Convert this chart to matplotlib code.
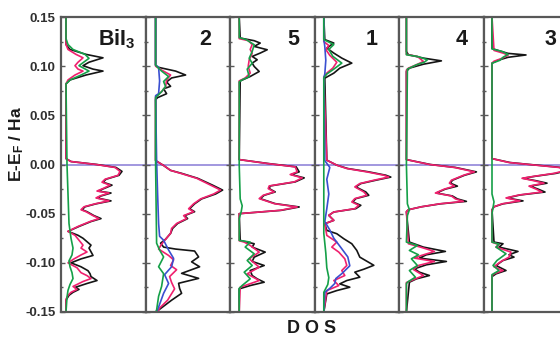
import matplotlib
matplotlib.use('Agg')
import matplotlib.pyplot as plt
from matplotlib.ticker import MultipleLocator

plt.rcParams['font.family'] = ['Liberation Sans', 'DejaVu Sans']
plt.rcParams['mathtext.fontset'] = 'custom'
plt.rcParams['mathtext.rm'] = 'Liberation Sans:bold'
plt.rcParams['mathtext.it'] = 'Liberation Sans:bold'
plt.rcParams['mathtext.bf'] = 'Liberation Sans:bold'
plt.rcParams['axes.unicode_minus'] = False

# ---------------- data (energy in Ha, DOS in arbitrary units) ----------------
panel_labels = [r'BiI$_3$', '2', '5', '1', '4', '3']
y_ticks = [-0.15, -0.10, -0.05, 0.00, 0.05, 0.10, 0.15]
y_tick_labels = ['-0.15', '-0.10', '-0.05', '0.00', '0.05', '0.10', '0.15']

# Panel 1 : BiI3
p1_black_e = [0.15, 0.122, 0.117, 0.112, 0.1085, 0.104, 0.1005, 0.097, 0.095, 0.091, 0.086, 0.082,
              0.006, 0.003, 0.0, -0.003, -0.007, -0.011, -0.015, -0.018, -0.021, -0.024, -0.027, -0.029,
              -0.032, -0.034, -0.037, -0.040, -0.043, -0.046, -0.048, -0.052, -0.055, -0.058, -0.063, -0.068,
              -0.072, -0.075, -0.082, -0.085, -0.0925, -0.096, -0.100, -0.104, -0.108, -0.111, -0.114, -0.118,
              -0.121, -0.125, -0.127, -0.130, -0.133, -0.138, -0.15]
p1_black_d = [5, 5, 9, 25, 42, 28, 22, 32, 42, 25, 9, 5,
              5, 10, 36, 55, 61, 58, 45, 42, 51, 44, 37, 50, 40, 36, 50, 35, 24, 21, 26, 33, 40, 30, 18, 7,
              17, 22, 30, 28, 32, 20, 10, 20, 27, 29, 30, 36, 26, 14, 18, 12, 8, 5, 5]
p1_mag_e = [0.15, 0.122, 0.117, 0.112, 0.1085, 0.104, 0.1005, 0.097, 0.095, 0.091, 0.086, 0.082,
            0.006, 0.003, 0.0, -0.003, -0.007, -0.011, -0.015, -0.018, -0.021, -0.024, -0.027, -0.029,
            -0.032, -0.034, -0.037, -0.040, -0.043, -0.046, -0.048, -0.052, -0.055, -0.058, -0.063, -0.068,
            -0.072, -0.077, -0.082, -0.085, -0.089, -0.092, -0.096, -0.100, -0.105, -0.110, -0.113, -0.116,
            -0.119, -0.124, -0.127, -0.130, -0.133, -0.137, -0.15]
p1_mag_d = [5, 5, 7, 15, 22, 17, 14, 17, 22, 14, 7, 5,
            5, 10, 35, 54, 59, 57, 44, 41, 49, 43, 36, 48, 39, 35, 48, 34, 23, 20, 25, 32, 38, 29, 17, 7,
            14, 18, 22, 20, 26, 20, 13, 7, 16, 20, 26, 30, 22, 12, 16, 10, 7, 5, 5]
p1_green_e = [0.15, 0.128, 0.122, 0.117, 0.112, 0.108, 0.1005, 0.095, 0.091, 0.086, 0.082, 0.0, -0.03,
              -0.06, -0.075, -0.085, -0.092, -0.098, -0.104, -0.110, -0.116, -0.122, -0.128, -0.135, -0.15]
p1_green_d = [5, 5, 7, 12, 24, 28, 18, 28, 20, 9, 5, 6, 7, 8, 10, 12, 11, 8, 9, 11, 12, 9, 7, 6, 5]

# Panel 2
p2_black_e = [0.15, 0.101, 0.099, 0.095, 0.091, 0.088, 0.084, 0.0795, 0.077, 0.072, 0.068, 0.066,
              0.004, -0.001, -0.006, -0.009, -0.014, -0.021, -0.026, -0.030, -0.035, -0.040, -0.045, -0.048,
              -0.052, -0.055, -0.060, -0.065, -0.070, -0.076, -0.080,
              -0.084, -0.086, -0.088, -0.094, -0.099, -0.104, -0.1107, -0.1158, -0.1208, -0.126, -0.131,
              -0.138, -0.148, -0.15]
p2_black_d = [10, 10, 12, 30, 40, 26, 21, 25, 18, 21, 12, 10,
              10, 18, 25, 36, 52, 67, 77, 70, 56, 49, 44, 49, 39, 42, 32, 27, 25, 20, 15,
              18, 30, 49, 53, 46, 54, 36, 53, 33, 34, 36, 26, 13, 11]
p2_mag_e = [0.15, 0.100, 0.096, 0.091, 0.086, 0.079, 0.074, 0.069,
            0.004, -0.001, -0.006, -0.009, -0.014, -0.021, -0.026, -0.030, -0.035, -0.040, -0.045, -0.048,
            -0.052, -0.055, -0.060, -0.065, -0.070, -0.076, -0.081, -0.086,
            -0.0925, -0.097, -0.1027, -0.107, -0.114, -0.120, -0.1265, -0.133, -0.138, -0.146, -0.15]
p2_mag_d = [10, 10, 16, 25, 21, 20, 16, 10,
            10, 18, 25, 35, 51, 65, 75, 68, 55, 48, 43, 48, 38, 41, 31, 26, 25, 20, 16, 13,
            23, 28, 25, 31, 24, 26, 29, 25, 22, 14, 12]
p2_blue_e = [0.15, 0.101, 0.099, 0.085, 0.072, 0.070, 0.004, -0.03, -0.06, -0.073, -0.077, -0.087,
             -0.0955, -0.104, -0.112, -0.121, -0.131, -0.145, -0.15]
p2_blue_d = [10, 10, 13, 14, 13, 10, 11, 12, 13, 14, 18, 23, 28, 26, 19, 23, 18, 13, 11]
p2_green_e = [0.15, 0.101, 0.095, 0.0895, 0.0844, 0.0793, 0.0741, 0.068, 0.0, -0.08, -0.087, -0.094,
              -0.104, -0.111, -0.124, -0.134, -0.148, -0.15]
p2_green_d = [10, 10, 16, 23, 18, 20, 16, 10, 10, 11, 14, 18, 13, 18, 16, 13, 11, 10]

# Panel 3 : "5"
p3_black_e = [0.15, 0.1286, 0.1259, 0.1235, 0.1201, 0.1167, 0.1133, 0.1099, 0.1065, 0.1031, 0.0997,
              0.0946, 0.0895, 0.0850,
              0.005, 0.001, -0.0024, -0.0075, -0.0102, -0.0136, -0.0177, -0.0218, -0.0245, -0.0279,
              -0.0313, -0.0347, -0.0398, -0.0432, -0.0466, -0.050,
              -0.0772, -0.0806, -0.084, -0.0891, -0.0942, -0.0986, -0.1027, -0.1078, -0.1129, -0.1163,
              -0.1197, -0.1231, -0.1265, -0.15]
p3_black_d = [9, 10, 24, 30, 24, 37, 30, 22, 27, 22, 24, 29, 20, 10,
              9, 38, 66, 69, 61, 74, 65, 40, 39, 45, 34, 30, 45, 69, 51, 9,
              10, 24, 22, 35, 24, 22, 34, 20, 22, 27, 34, 20, 9, 9]
p3_mag_e = [0.15, 0.128, 0.126, 0.122, 0.117, 0.113, 0.1065, 0.0997, 0.093, 0.088, 0.085,
            0.005, 0.001, -0.0024, -0.0075, -0.0102, -0.0136, -0.0177, -0.0218, -0.0245, -0.0279,
            -0.0313, -0.0347, -0.0398, -0.0432, -0.0466, -0.050,
            -0.0775, -0.0789, -0.0823, -0.0891, -0.0959, -0.1044, -0.1112, -0.118, -0.1248, -0.15]
p3_mag_d = [9, 9, 18, 22, 20, 22, 19, 18, 20, 15, 9,
            9, 37, 65, 67, 60, 72, 64, 39, 38, 44, 33, 29, 44, 67, 50, 9,
            9, 14, 20, 29, 19, 29, 17, 29, 10, 9]
p3_green_e = [0.15, 0.129, 0.127, 0.1218, 0.115, 0.108, 0.103, 0.097, 0.0895, 0.0861, 0.084, 0.0,
              -0.035, -0.042, -0.048, -0.055, -0.0772, -0.0789, -0.084, -0.0908, -0.0976, -0.1027,
              -0.1095, -0.1163, -0.123, -0.126, -0.15]
p3_green_d = [9, 9, 16, 24, 22, 19, 22, 17, 19, 12, 9, 9, 10, 12, 11, 9, 9, 20, 15, 24, 17, 22, 14, 20,
              12, 9, 9]

# Panel 4 : "1"
p4_black_e = [0.15, 0.127, 0.1235, 0.1184, 0.1133, 0.1082, 0.1031, 0.098, 0.0929, 0.0878,
              0.0044, -0.0007, -0.0041, -0.0075, -0.0109, -0.0128, -0.016, -0.0194, -0.0228, -0.0279,
              -0.0313, -0.0347, -0.0381, -0.0415, -0.0449, -0.0483, -0.0517, -0.0568, -0.0602,
              -0.067, -0.0704, -0.0755, -0.0806, -0.0874, -0.0942, -0.1025, -0.1065, -0.1095, -0.1146,
              -0.118, -0.1214, -0.1248, -0.1282, -0.1316, -0.15]
p4_black_d = [9, 10, 19, 12, 19, 27, 37, 25, 19, 10,
              12, 22, 33, 54, 71, 76, 61, 46, 41, 51, 54, 41, 38, 46, 41, 19, 14, 19, 10,
              12, 22, 29, 37, 42, 45, 59, 49, 40, 45, 32, 25, 35, 22, 12, 9]
p4_mag_e = [0.15, 0.125, 0.121, 0.117, 0.111, 0.104, 0.098, 0.093, 0.089,
            0.0044, -0.0007, -0.0041, -0.0075, -0.0109, -0.0128, -0.016, -0.0194, -0.0228, -0.0279,
            -0.0313, -0.0347, -0.0381, -0.0415, -0.0449, -0.0483, -0.0517, -0.0568, -0.0602,
            -0.0721, -0.0789, -0.084, -0.0891, -0.0959, -0.1027, -0.1078, -0.1129, -0.118, -0.1231,
            -0.1282, -0.15]
p4_mag_d = [9, 9, 14, 11, 15, 22, 18, 12, 9,
            12, 22, 32, 52, 69, 74, 59, 45, 40, 49, 52, 40, 37, 44, 40, 19, 14, 19, 10,
            12, 22, 17, 24, 30, 32, 27, 30, 19, 24, 12, 9]
p4_blue_e = [0.15, 0.128, 0.120, 0.106, 0.092, 0.088, 0.004, -0.003, -0.015, -0.030, -0.045, -0.058,
             -0.0666, -0.075, -0.083, -0.094, -0.103, -0.111, -0.116, -0.121, -0.126, -0.130, -0.15]
p4_blue_d = [9, 9, 10, 11, 10, 9, 10, 15, 12, 14, 12, 10, 15, 19, 25, 33, 35, 27, 21, 20, 15, 10, 9]
p4_green_e = [0.15, 0.127, 0.122, 0.117, 0.110, 0.1031, 0.097, 0.092, 0.088, 0.0, -0.07, -0.09, -0.105,
              -0.115, -0.122, -0.13, -0.15]
p4_green_d = [9, 9, 19, 14, 18, 27, 19, 12, 9, 9, 9, 11, 12, 14, 13, 9, 9]

# Panel 5 : "4"
p5_black_e = [0.15, 0.1150, 0.1116, 0.1082, 0.1054, 0.102, 0.098, 0.0946,
              0.005, 0.0, -0.003, -0.0075, -0.011, -0.016, -0.019, -0.022, -0.025, -0.029, -0.032, -0.035,
              -0.0375, -0.040, -0.043, -0.046, -0.048,
              -0.0789, -0.084, -0.0884, -0.0918, -0.0952, -0.0986, -0.102, -0.1061, -0.1095, -0.1129,
              -0.1163, -0.1197, -0.15]
p5_black_d = [7, 7, 9, 24, 42, 24, 10, 7,
              7, 31, 56, 77, 65, 53, 51, 58, 46, 37, 53, 58, 67, 41, 22, 9, 7,
              10, 24, 46, 27, 20, 47, 27, 15, 20, 30, 17, 10, 7]
p5_mag_e = [0.15, 0.112, 0.1099, 0.1048, 0.1014, 0.098, 0.096,
            0.005, 0.0, -0.003, -0.0075, -0.011, -0.016, -0.019, -0.022, -0.025, -0.029, -0.032, -0.035,
            -0.0375, -0.040, -0.043, -0.046, -0.048,
            -0.0806, -0.084, -0.0884, -0.0925, -0.0952, -0.0986, -0.1027, -0.1068, -0.1129, -0.118,
            -0.120, -0.15]
p5_mag_d = [7, 7, 18, 24, 17, 9, 7,
            7, 30, 55, 75, 64, 52, 50, 55, 45, 36, 52, 56, 64, 40, 22, 9, 7,
            9, 21, 35, 22, 15, 35, 19, 14, 24, 12, 7, 7]
p5_green_e = [0.15, 0.1116, 0.1099, 0.1065, 0.1041, 0.1014, 0.097, 0.0, -0.04, -0.046, -0.052, -0.0789,
              -0.0823, -0.0874, -0.0918, -0.0959, -0.1027, -0.1078, -0.1146, -0.119, -0.121, -0.15]
p5_green_d = [7, 7, 18, 28, 25, 17, 8, 7, 8, 10, 8, 7, 18, 10, 19, 12, 18, 10, 16, 9, 7, 7]

# Panel 6 : "3"
p6_black_e = [0.15, 0.118, 0.116, 0.113, 0.1114, 0.109, 0.106, 0.103,
              0.006, 0.002, 0.0, -0.003, -0.006, -0.009, -0.012, -0.014, -0.0165, -0.019, -0.022, -0.025,
              -0.028, -0.031, -0.034, -0.037, -0.040, -0.043, -0.046,
              -0.0789, -0.0806, -0.084, -0.0884, -0.0918, -0.0942, -0.0976, -0.1027, -0.1078, -0.1112,
              -0.114, -0.15]
p6_black_d = [8, 8, 14, 24, 42, 24, 14, 8,
              8, 26, 46, 77, 84, 72, 51, 39, 52, 63, 46, 54, 61, 36, 23, 39, 19, 10, 8,
              10, 19, 15, 34, 25, 30, 19, 12, 22, 12, 8, 8]
p6_mag_e = [0.15, 0.116, 0.113, 0.111, 0.108, 0.105, 0.103,
            0.006, 0.002, 0.0, -0.003, -0.006, -0.009, -0.012, -0.014, -0.0165, -0.019, -0.022, -0.025,
            -0.028, -0.031, -0.034, -0.037, -0.040, -0.043, -0.046,
            -0.079, -0.0815, -0.084, -0.0891, -0.0942, -0.0986, -0.104, -0.1078, -0.1112, -0.113, -0.15]
p6_mag_d = [8, 10, 20, 24, 18, 10, 8,
            8, 25, 45, 75, 82, 70, 50, 38, 50, 60, 45, 52, 58, 35, 22, 36, 18, 10, 8,
            8, 15, 12, 27, 25, 17, 10, 19, 10, 8, 8]
p6_green_e = [0.15, 0.1175, 0.115, 0.112, 0.109, 0.106, 0.103, 0.0, -0.03, -0.038, -0.044, -0.05,
              -0.0789, -0.081, -0.084, -0.0908, -0.0976, -0.1027, -0.1078, -0.112, -0.15]
p6_green_d = [8, 8, 18, 24, 19, 16, 8, 8, 8, 10, 9, 8, 8, 15, 12, 22, 13, 9, 15, 8, 8]

# ---------------- styling ----------------
C_BLACK = '#151515'
C_MAG = '#f0206e'
C_BLUE = '#3a4fd0'
C_GREEN = '#15a048'
C_ZERO = '#9a8fdc'
C_FRAME = '#585858'

panels = [
    [(p1_black_e, p1_black_d, C_BLACK), (p1_mag_e, p1_mag_d, C_MAG), (p1_green_e, p1_green_d, C_GREEN)],
    [(p2_black_e, p2_black_d, C_BLACK), (p2_mag_e, p2_mag_d, C_MAG), (p2_blue_e, p2_blue_d, C_BLUE),
     (p2_green_e, p2_green_d, C_GREEN)],
    [(p3_black_e, p3_black_d, C_BLACK), (p3_mag_e, p3_mag_d, C_MAG), (p3_green_e, p3_green_d, C_GREEN)],
    [(p4_black_e, p4_black_d, C_BLACK), (p4_mag_e, p4_mag_d, C_MAG), (p4_blue_e, p4_blue_d, C_BLUE),
     (p4_green_e, p4_green_d, C_GREEN)],
    [(p5_black_e, p5_black_d, C_BLACK), (p5_mag_e, p5_mag_d, C_MAG), (p5_green_e, p5_green_d, C_GREEN)],
    [(p6_black_e, p6_black_d, C_BLACK), (p6_mag_e, p6_mag_d, C_MAG), (p6_green_e, p6_green_d, C_GREEN)],
]
label_x = [0.66, 0.70, 0.75, 0.67, 0.73, 0.78]

W, H = 560, 339
fig = plt.figure(figsize=(W / 100, H / 100), dpi=100)
fig.patch.set_facecolor('white')
left0 = 61 / W
pw = 84.6 / W
bottom = 1 - 312 / H
top = 1 - 17 / H

for i, series in enumerate(panels):
    ax = fig.add_axes([left0 + i * pw, bottom, pw, top - bottom])
    ax.set_xlim(0, 84.6)
    ax.set_ylim(-0.15, 0.15)
    ax.axhline(0, color=C_ZERO, lw=1.3, zorder=1)
    for e, d, c in series:
        ax.plot(d, e, color=c, lw=1.2, zorder=2, solid_joinstyle='round')
    for sp in ax.spines.values():
        sp.set_color(C_FRAME)
        sp.set_linewidth(1.6)
    ax.set_xticks([])
    ax.set_yticks(y_ticks)
    ax.yaxis.set_minor_locator(MultipleLocator(0.025))
    ax.tick_params(axis='y', which='both', direction='in', left=True, right=True,
                   color=C_FRAME, width=1.0)
    ax.tick_params(axis='y', which='major', length=3)
    ax.tick_params(axis='y', which='minor', length=1.5)
    if i == 0:
        ax.set_yticklabels(y_tick_labels, fontsize=9.5, fontweight='bold', color='#303030')
        ax.tick_params(axis='y', which='major', pad=4)
    else:
        ax.tick_params(axis='y', labelleft=False)
    ax.text(label_x[i], 0.925, panel_labels[i], transform=ax.transAxes, ha='center', va='center',
            fontsize=15.5, fontweight='bold', color='#1a1a1a')

fig.text(0.030, 0.575, r'E-E$_F$ / Ha', rotation=90, ha='center', va='center',
         fontsize=12.5, fontweight='bold', color='#1a1a1a')
fig.text(0.556, 0.030, 'D O S', ha='center', va='center', fontsize=13, fontweight='bold',
         color='#1a1a1a')

fig.savefig('out.png', dpi=100, facecolor='white')
